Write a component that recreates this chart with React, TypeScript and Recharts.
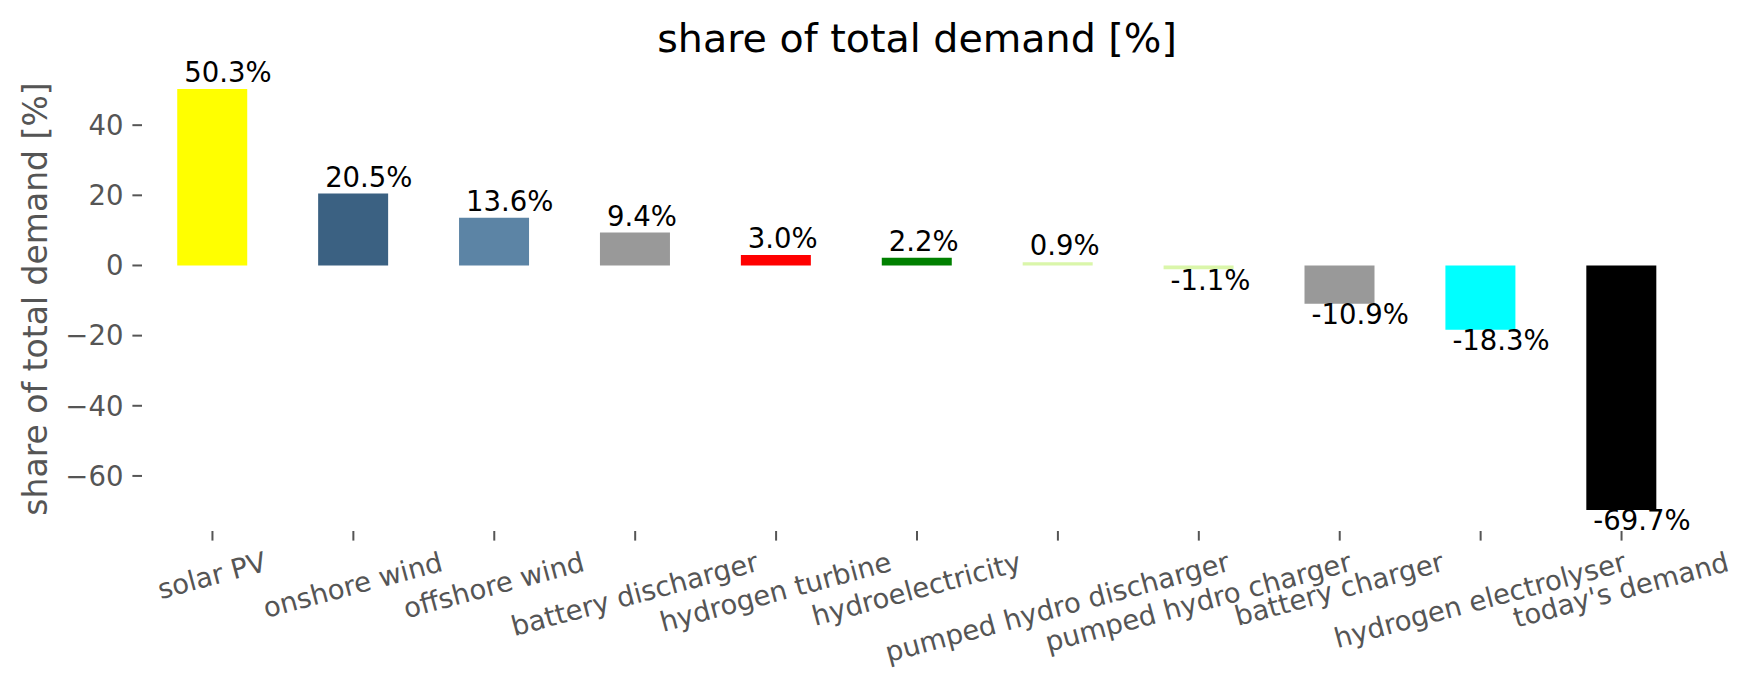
import React from 'react';
import { BarChart, Bar, XAxis, YAxis, Cell, LabelList } from 'recharts';

const categories = [
  'solar PV',
  'onshore wind',
  'offshore wind',
  'battery discharger',
  'hydrogen turbine',
  'hydroelectricity',
  'pumped hydro discharger',
  'pumped hydro charger',
  'battery charger',
  'hydrogen electrolyser',
  "today's demand",
];

const shares = [50.3, 20.5, 13.6, 9.4, 3.0, 2.2, 0.9, -1.1, -10.9, -18.3, -69.7];

const colors = [
  '#ffff00',
  '#3b6182',
  '#5c84a5',
  '#999999',
  '#ff0000',
  '#008000',
  '#daf6aa',
  '#daf6aa',
  '#999999',
  '#00ffff',
  '#000000',
];

const yTicks = [-60, -40, -20, 0, 20, 40];

const data = categories.map((name, i) => ({ name, value: shares[i] }));

const W = 1753;
const H = 689;
const FONT = '"DejaVu Sans", "Liberation Sans", sans-serif';
const TICK_FS = 27.5;
const LABEL_FS = 27.5;
const GRAY = '#555555';
const TICK_LEN = 9.6;

let ctx: CanvasRenderingContext2D | null = null;
function measure(text: string, fs: number): number {
  if (!ctx) {
    const c = document.createElement('canvas');
    ctx = c.getContext('2d');
  }
  if (!ctx) return text.length * fs * 0.6;
  ctx.font = `${fs}px "DejaVu Sans"`;
  return ctx.measureText(text).width;
}

const XTick = (props: any) => {
  const { x, y, payload } = props;
  const text = String(payload.value);
  const w = measure(text, TICK_FS);
  const th = (15 * Math.PI) / 180;
  const hgt = TICK_FS * 1.0;
  const bbH = w * Math.sin(th) + hgt * Math.cos(th);
  const top = y + 9.6;
  const cy = top + bbH / 2;
  return (
    <g>
      <text
        x={0}
        y={0}
        dy={0.26 * TICK_FS}
        textAnchor="middle"
        fontSize={TICK_FS}
        fontFamily={FONT}
        fill={GRAY}
        transform={`translate(${x},${cy}) rotate(-15)`}
      >
        {text}
      </text>
    </g>
  );
};

const ValueLabel = (props: any) => {
  const { x, y, height, value } = props;
  const top = Math.min(y, y + height);
  const bottom = Math.max(y, y + height);
  const v = Number(value);
  const ly = v >= 0 ? top - 7 : bottom + 20.5;
  return (
    <text
      x={x + 7}
      y={ly}
      textAnchor="start"
      fontSize={LABEL_FS}
      fontFamily={FONT}
      fill="#000000"
    >
      {v.toFixed(1) + '%'}
    </text>
  );
};

const fmtY = (v: number) => (v < 0 ? '\u2212' + Math.abs(v) : String(v));

export default function App() {
  return (
    <div style={{ position: 'absolute', left: 0, top: 0, width: W, height: H, background: '#ffffff' }}>
      <BarChart
        width={W}
        height={H}
        data={data}
        margin={{ top: 68, right: 61, left: 0, bottom: 0 }}
        barCategoryGap="25%"
      >
        <XAxis
          dataKey="name"
          height={158}
          interval={0}
          axisLine={false}
          tickLine={{ stroke: GRAY, strokeWidth: 2 }}
          tickSize={TICK_LEN}
          tickMargin={0}
          tick={<XTick />}
        />
        <YAxis
          width={142}
          type="number"
          domain={[-75.7, 56.3]}
          ticks={yTicks}
          interval={0}
          axisLine={false}
          tickLine={{ stroke: GRAY, strokeWidth: 2 }}
          tickSize={TICK_LEN}
          tickMargin={9}
          tickFormatter={fmtY}
          tick={{ fill: GRAY, fontSize: TICK_FS, fontFamily: FONT }}
          allowDataOverflow
        />
        <Bar dataKey="value" isAnimationActive={false}>
          {data.map((d, i) => (
            <Cell key={d.name} fill={colors[i]} />
          ))}
          <LabelList dataKey="value" content={<ValueLabel />} />
        </Bar>
      </BarChart>
      <svg
        width={W}
        height={H}
        style={{ position: 'absolute', left: 0, top: 0, pointerEvents: 'none' }}
      >
        <text x={917} y={52} textAnchor="middle" fontSize={39.6} fontFamily={FONT} fill="#000000">
          share of total demand [%]
        </text>
        <text
          x={0}
          y={0}
          textAnchor="middle"
          fontSize={33}
          fontFamily={FONT}
          fill={GRAY}
          transform="translate(47,299) rotate(-90)"
        >
          share of total demand [%]
        </text>
      </svg>
    </div>
  );
}
